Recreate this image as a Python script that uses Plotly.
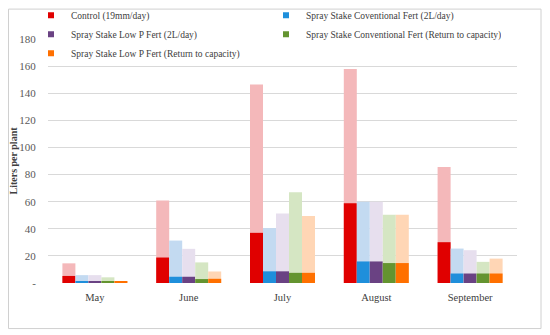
import plotly.graph_objects as go

months = ["May", "June", "July", "August", "September"]

series_names = [
    "Control (19mm/day)",
    "Spray Stake Coventional Fert (2L/day)",
    "Spray Stake Low P Fert (2L/day)",
    "Spray Stake Conventional Fert (Return to capacity)",
    "Spray Stake Low P Fert (Return to capacity)",
]

control_dark = [5.2, 18.8, 37.0, 58.8, 30.1]
control_total = [14.5, 60.8, 146.5, 157.8, 85.5]
conv2_dark = [1.5, 4.6, 8.6, 15.9, 7.0]
conv2_total = [5.8, 31.3, 40.5, 60.0, 25.4]
lowp2_dark = [1.3, 4.6, 8.6, 15.9, 7.0]
lowp2_total = [5.8, 25.2, 51.3, 60.0, 24.2]
convr_dark = [1.0, 2.9, 7.5, 14.7, 7.0]
convr_total = [4.2, 15.2, 66.9, 50.4, 15.6]
lowpr_dark = [1.0, 3.1, 7.5, 14.7, 7.0]
lowpr_total = [1.2, 8.5, 49.5, 50.4, 18.0]

y_ticks = [0, 20, 40, 60, 80, 100, 120, 140, 160, 180]
y_ticktext = ["-", "20", "40", "60", "80", "100", "120", "140", "160", "180"]
grid_vals = [0, 20, 40, 60, 80, 100, 120, 140, 160]

dark_vals = [control_dark, conv2_dark, lowp2_dark, convr_dark, lowpr_dark]
total_vals = [control_total, conv2_total, lowp2_total, convr_total, lowpr_total]
dark_colors = ["#E00000", "#1F8FDB", "#6A4283", "#649430", "#FF7000"]
light_colors = ["#F4B8BA", "#C3DAF1", "#E7DFEE", "#D5E6C3", "#FFD6B5"]

FONT = "Liberation Serif"

# figure is placed by the page at an 8px offset; work in div coordinates
W, H = 542, 327
ML, MR, MT, MB = 40, 33, 30.5, 51.7
PW = W - ML - MR
PH = H - MT - MB

fig = go.Figure()
# invisible trace to activate the gridline axis
fig.add_trace(go.Scatter(x=[months[0]], y=[None], yaxis="y2", showlegend=False,
                         hoverinfo="skip", mode="markers"))
for i in range(5):
    fig.add_trace(go.Bar(x=months, y=total_vals[i], offsetgroup=str(i),
                         marker=dict(color=light_colors[i], line=dict(width=0)),
                         showlegend=False, hoverinfo="skip"))
    fig.add_trace(go.Bar(x=months, y=dark_vals[i], offsetgroup=str(i),
                         marker=dict(color=dark_colors[i], line=dict(width=0)),
                         showlegend=False, name=series_names[i]))

# legend entries (small square symbols)
for i in range(5):
    fig.add_trace(go.Scatter(x=[None], y=[None], mode="markers", name=series_names[i],
                             marker=dict(symbol="square", size=6, color=dark_colors[i]),
                             showlegend=True))

fig.update_layout(
    width=W, height=H,
    margin=dict(l=ML, r=MR, t=MT, b=MB, autoexpand=False),
    paper_bgcolor="white", plot_bgcolor="white",
    barmode="group", bargap=0.307, bargroupgap=0,
    font=dict(family=FONT, color="#404040"),
    showlegend=True,
    legend=dict(orientation="h", x=(23 - ML) / PW, xanchor="left",
                y=(H - MB + 8) / PH, yanchor="top",
                font=dict(family=FONT, size=9.5, color="#404040"),
                entrywidth=190, entrywidthmode="pixels",
                bgcolor="rgba(255,255,255,0)", itemwidth=30),
    xaxis=dict(showgrid=False, showline=False, zeroline=False,
               ticks="outside", ticklen=4, tickcolor="rgba(0,0,0,0)",
               tickfont=dict(family=FONT, size=10.5, color="#404040")),
    yaxis=dict(range=[0, 180], tickvals=y_ticks, ticktext=y_ticktext,
               showgrid=False,
               zeroline=False, showline=False,
               ticks="outside", ticklen=9, tickcolor="rgba(0,0,0,0)",
               tickfont=dict(family=FONT, size=11, color="#595959"),
               title=dict(text="<b>Liters per plant</b>", standoff=3,
                          font=dict(family=FONT, size=10, color="#404040"))),
    yaxis2=dict(range=[0, 180], overlaying="y", side="left", tickvals=grid_vals,
                showgrid=True, gridcolor="#D9D9D9", gridwidth=1,
                showticklabels=False, zeroline=False, showline=False, ticks="",
                layer="below traces"),
    shapes=[dict(type="rect", xref="paper", yref="paper",
                 x0=(0.5 - ML) / PW, x1=(533 - ML) / PW,
                 y0=(H - MB - 321) / PH, y1=(H - MB - 0.5) / PH,
                 line=dict(color="#D0D0D0", width=1), fillcolor="rgba(0,0,0,0)",
                 layer="above")],
)

fig.write_html("out.html")
